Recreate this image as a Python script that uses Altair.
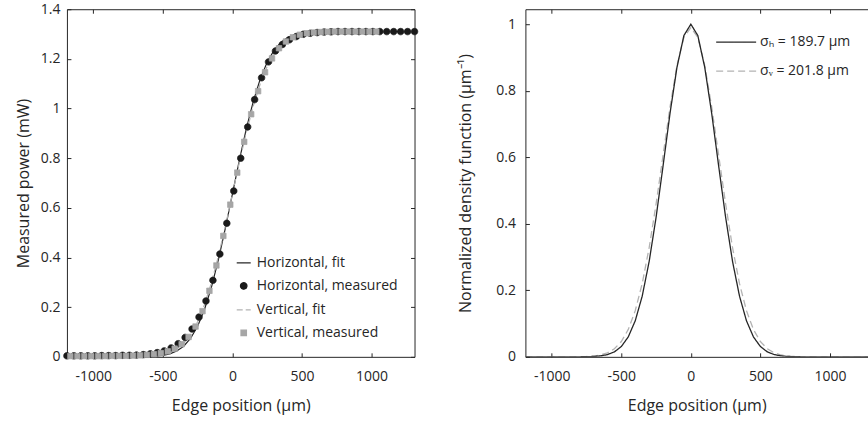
import altair as alt
import pandas as pd

FONT = "Open Sans"
INK = "#262626"
GRAY_LINE = "#b3b3b3"
GRAY_MARK = "#a6a6a6"

# ---------------- left panel: knife-edge power ----------------
h_meas_x = [-1190, -1140, -1090, -1040, -990, -940, -890, -840, -790, -740,
            -690, -640, -590, -540, -490, -440, -390, -340, -290, -240,
            -190, -140, -90, -40, 10, 60, 110, 160, 210, 260,
            310, 360, 410, 460, 510, 560, 610, 660, 710, 760,
            810, 860, 910, 960, 1010, 1060, 1110, 1160, 1210, 1260, 1310]
h_meas_y = [0.004, 0.004, 0.004, 0.004, 0.004, 0.005, 0.005, 0.005, 0.006, 0.006,
            0.007, 0.009, 0.012, 0.017, 0.024, 0.036, 0.053, 0.078, 0.112, 0.160,
            0.225, 0.308, 0.414, 0.538, 0.668, 0.800, 0.926, 1.036, 1.124, 1.188,
            1.232, 1.258, 1.277, 1.290, 1.299, 1.303, 1.306, 1.308, 1.309, 1.310,
            1.310, 1.310, 1.310, 1.310, 1.310, 1.310, 1.310, 1.310, 1.310, 1.310, 1.310]

v_meas_x = [-1165, -1115, -1065, -1015, -965, -915, -865, -815, -765, -715,
            -665, -615, -565, -515, -465, -415, -365, -315, -265, -215,
            -165, -115, -65, -15, 35, 85, 135, 185, 235, 285,
            335, 385, 435, 485, 535, 585, 635, 685, 735, 785,
            835, 885, 935, 985, 1035]
v_meas_y = [0.003, 0.003, 0.003, 0.003, 0.003, 0.003, 0.004, 0.004, 0.004, 0.005,
            0.006, 0.008, 0.011, 0.015, 0.022, 0.033, 0.051, 0.080, 0.122, 0.184,
            0.266, 0.368, 0.487, 0.613, 0.742, 0.866, 0.977, 1.070, 1.146, 1.202,
            1.243, 1.270, 1.287, 1.297, 1.303, 1.306, 1.308, 1.309, 1.310, 1.310,
            1.310, 1.310, 1.310, 1.310, 1.310]

fit_x = [-1190, -1000, -800, -700, -600, -550, -500, -450, -400, -350,
         -300, -250, -200, -150, -100, -50, 0, 50, 100, 150,
         200, 250, 300, 350, 400, 450, 500, 550, 600, 700,
         800, 1000, 1310]
h_fit_y = [0, 0, 0, 0.0001, 0.001, 0.0025, 0.0056, 0.0117, 0.0231, 0.0428,
           0.0749, 0.1233, 0.1915, 0.2817, 0.3922, 0.519, 0.655, 0.791, 0.918, 1.028,
           1.1185, 1.1867, 1.2351, 1.2672, 1.2869, 1.2983, 1.3044, 1.3075, 1.309, 1.3099,
           1.31, 1.31, 1.31]
v_fit_y = [0, 0, 0, 0.0003, 0.002, 0.0043, 0.0087, 0.017, 0.031, 0.054,
           0.090, 0.141, 0.211, 0.300, 0.407, 0.527, 0.655, 0.783, 0.903, 1.010,
           1.099, 1.169, 1.220, 1.256, 1.279, 1.293, 1.3013, 1.3057, 1.308, 1.3097,
           1.31, 1.31, 1.31]

series_left = ["Horizontal, fit", "Horizontal, measured", "Vertical, fit", "Vertical, measured"]

# ---------------- right panel: normalized density ----------------
pdf_x = [-1190, -1000, -900, -800, -750, -700, -650, -600, -550, -500,
         -450, -400, -350, -300, -250, -200, -150, -100, -50, 0,
         50, 100, 150, 200, 250, 300, 350, 400, 450, 500,
         550, 600, 650, 700, 750, 800, 900, 1000, 1310]
h_pdf = [0, 0, 0, 0.0001, 0.0004, 0.0011, 0.0028, 0.0067, 0.0149, 0.031,
         0.060, 0.1083, 0.1823, 0.2864, 0.4196, 0.5736, 0.7316, 0.870, 0.966, 1.0,
         0.966, 0.870, 0.7316, 0.5736, 0.4196, 0.2864, 0.1823, 0.1083, 0.060, 0.031,
         0.0149, 0.0067, 0.0028, 0.0011, 0.0004, 0.0001, 0, 0, 0]
v_pdf = [0, 0, 0, 0.0004, 0.0010, 0.0024, 0.0055, 0.0119, 0.0242, 0.0459,
         0.0824, 0.1388, 0.220, 0.3279, 0.4596, 0.6059, 0.751, 0.8757, 0.9604, 0.99,
         0.9604, 0.8757, 0.751, 0.6059, 0.4596, 0.3279, 0.220, 0.1388, 0.0824, 0.0459,
         0.0242, 0.0119, 0.0055, 0.0024, 0.0010, 0.0004, 0, 0, 0]
series_right = ["σₕ = 189.7 µm", "σᵥ = 201.8 µm"]

x_ticks = [-1000, -500, 0, 500, 1000]
left_y_ticks = [0, 0.2, 0.4, 0.6, 0.8, 1, 1.2, 1.4]
right_y_ticks = [0, 0.2, 0.4, 0.6, 0.8, 1]

W, H = 348, 348
W_R = 343
TICK = 4

# ---------------- data frames ----------------
meas_df = pd.concat([
    pd.DataFrame({"x": h_meas_x, "y": h_meas_y, "series": series_left[1]}),
    pd.DataFrame({"x": v_meas_x, "y": v_meas_y, "series": series_left[3]}),
], ignore_index=True)
hfit_df = pd.DataFrame({"x": fit_x, "y": h_fit_y})
vfit_df = pd.DataFrame({"x": fit_x, "y": v_fit_y})
hpdf_df = pd.DataFrame({"x": pdf_x, "y": h_pdf, "series": series_right[0]})
vpdf_df = pd.DataFrame({"x": pdf_x, "y": v_pdf, "series": series_right[1]})

xs_left = alt.Scale(domain=[-1190, 1310], nice=False, zero=False)
ys_left = alt.Scale(domain=[0, 1.4], nice=False)
xs_right = alt.Scale(domain=[-1190, 1274], nice=False, zero=False)
ys_right = alt.Scale(domain=[0, 1.045], nice=False)


def label_axis(orient, values, title, lpad, tpad):
    """Axis with labels, title and the domain line; ticks drawn by the inward axes."""
    return alt.Axis(orient=orient, values=values, labelExpr="toString(datum.value)",
                    ticks=False, grid=False, domain=True, domainColor=INK, domainWidth=1,
                    labelPadding=lpad, titlePadding=tpad, title=title,
                    labelFlush=False, labelOverlap=False)


def tick_axis(orient, values, offset, domain):
    """Label-less axis pushed inside the plot so its ticks point inward."""
    return alt.Axis(orient=orient, values=values, offset=offset, labels=False, ticks=True,
                    tickSize=TICK, tickColor=INK, tickWidth=1, grid=False,
                    domain=domain, domainColor=INK, domainWidth=1, title=None)


# ---------------- left panel ----------------
left_legend = alt.Legend(title=None, orient="none", legendX=169, legendY=246, direction="vertical",
                         padding=0, rowPadding=9, labelOffset=5, labelLimit=300,
                         symbolStrokeWidth=1.2)

hfit = alt.Chart(hfit_df).mark_line(color=INK, strokeWidth=1.2, clip=True).encode(
    x=alt.X("x:Q", scale=xs_left, axis=label_axis("bottom", x_ticks, "Edge position (µm)", 13, 14)),
    y=alt.Y("y:Q", scale=ys_left, axis=label_axis("left", left_y_ticks, "Measured power (mW)", 7, 9)),
)
vfit = alt.Chart(vfit_df).mark_line(color=GRAY_LINE, strokeWidth=1.2, strokeDash=[6, 3], clip=True).encode(
    # bottom ticks pointing up, left ticks pointing right
    x=alt.X("x:Q", scale=xs_left, axis=tick_axis("top", x_ticks, -H, False)),
    y=alt.Y("y:Q", scale=ys_left, axis=tick_axis("right", left_y_ticks, -W, False)),
)
pts = alt.Chart(meas_df).mark_point(filled=True, opacity=1, strokeWidth=0.8).encode(
    # top border with downward ticks, right border with leftward ticks
    x=alt.X("x:Q", scale=xs_left, axis=tick_axis("bottom", x_ticks, -H, True)),
    y=alt.Y("y:Q", scale=ys_left, axis=tick_axis("left", left_y_ticks, -W, True)),
    fill=alt.Fill("series:N", scale=alt.Scale(domain=series_left, range=[INK, "#1a1a1a", GRAY_LINE, GRAY_MARK]),
                  legend=left_legend),
    stroke=alt.Stroke("series:N", scale=alt.Scale(domain=series_left, range=[INK, "#1a1a1a", GRAY_LINE, GRAY_MARK]),
                      legend=left_legend),
    shape=alt.Shape("series:N", scale=alt.Scale(domain=series_left, range=["stroke", "circle", "stroke", "square"]),
                    legend=left_legend),
    size=alt.Size("series:N", scale=alt.Scale(type="ordinal", domain=series_left, range=[196, 42, 196, 30]),
                  legend=left_legend),
    strokeDash=alt.StrokeDash("series:N", scale=alt.Scale(domain=series_left, range=[[1, 0], [1, 0], [6, 3], [1, 0]]),
                              legend=left_legend),
)
left = alt.layer(hfit, vfit, pts).resolve_axis(x="independent", y="independent").properties(width=W, height=H)

# ---------------- right panel ----------------
right_legend = alt.Legend(title=None, orient="none", legendX=190, legendY=12, direction="vertical",
                          padding=0, rowPadding=1, labelOffset=3, labelLimit=300,
                          symbolSize=1600, symbolType="stroke", symbolStrokeWidth=1.3)
stroke_r = alt.Scale(domain=series_right, range=[INK, GRAY_LINE])
dash_r = alt.Scale(domain=series_right, range=[[1, 0], [7, 4]])

rv = alt.Chart(vpdf_df).mark_line(strokeWidth=1.3, clip=True).encode(
    x=alt.X("x:Q", scale=xs_right, axis=tick_axis("bottom", x_ticks, -H, True)),
    y=alt.Y("y:Q", scale=ys_right, axis=tick_axis("right", right_y_ticks, -W_R, False)),
    stroke=alt.Stroke("series:N", scale=stroke_r, legend=right_legend),
    strokeDash=alt.StrokeDash("series:N", scale=dash_r, legend=right_legend),
)
rh = alt.Chart(hpdf_df).mark_line(strokeWidth=1.3, clip=True).encode(
    x=alt.X("x:Q", scale=xs_right, axis=label_axis("bottom", x_ticks, "Edge position (µm)", 13, 14)),
    y=alt.Y("y:Q", scale=ys_right,
            axis=label_axis("left", right_y_ticks, "Normalized density function (µm⁻¹)", 10, 22)),
    stroke=alt.Stroke("series:N", scale=stroke_r, legend=right_legend),
    strokeDash=alt.StrokeDash("series:N", scale=dash_r, legend=right_legend),
)
# invisible copy of the H curve that carries the upward-pointing bottom ticks
rticks = alt.Chart(hpdf_df).mark_line(strokeOpacity=0, clip=True).encode(
    x=alt.X("x:Q", scale=xs_right, axis=tick_axis("top", x_ticks, -H, False)),
    y=alt.Y("y:Q", scale=ys_right, axis=None),
)
right = alt.layer(rv, rh, rticks).resolve_axis(x="independent", y="independent").properties(width=W_R, height=H)

chart = alt.hconcat(left, right, spacing=38).resolve_scale(
    fill="independent", stroke="independent", shape="independent",
    size="independent", strokeDash="independent",
).properties(
    padding={"left": 15, "top": 2, "right": 0, "bottom": 6}
).configure_view(stroke=None).configure_axis(
    labelFont=FONT, titleFont=FONT, labelFontSize=14, titleFontSize=16,
    labelColor=INK, titleColor=INK, titleFontWeight="normal",
).configure_legend(
    labelFont=FONT, labelFontSize=14, labelColor=INK,
)

chart.save("out.html", embed_options={"renderer": "svg", "actions": False})
